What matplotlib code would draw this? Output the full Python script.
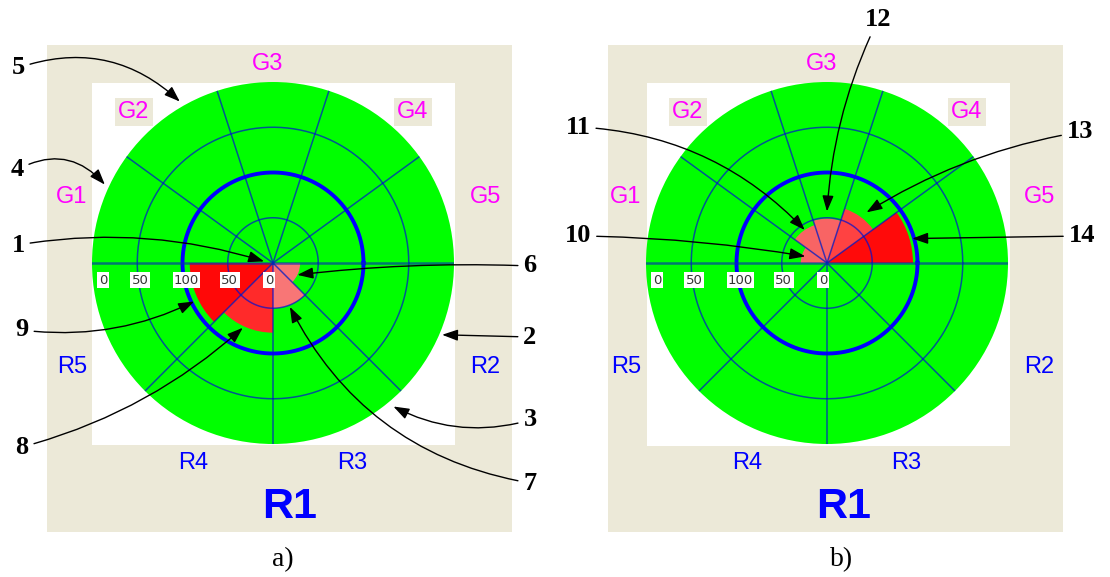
import numpy as np
import matplotlib
matplotlib.use("Agg")
import matplotlib.pyplot as plt
from matplotlib.patches import Rectangle

# sector names, upper half (left to right) and lower half (right to left)
g_names = ['G1', 'G2', 'G3', 'G4', 'G5']
r_names = ['R2', 'R3', 'R4', 'R5']
scale_ticks = ['0', '50', '100', '50', '0']
scale_radii = [200, 150, 100, 50, 0]

# values per sector for panel a) and b)
a_g_values = [0, 0, 0, 0, 0]
a_r_values = [30, 50, 77, 92]
b_g_values = [29, 44, 49, 63, 95]
b_r_values = [0, 0, 0, 0]

a_r_colors = ['#f87676', '#f87676', '#ff2a2a', '#ff0808']
b_g_colors = ['#f86464', '#f86464', '#f86464', '#ff4242', '#ff0a0a']

W, H = 1110, 577
BEIGE = '#ece9d8'
RAD = 181

fig = plt.figure(figsize=(W / 100, H / 100), dpi=100)
bg = fig.add_axes([0, 0, 1, 1])
bg.set_xlim(0, W)
bg.set_ylim(H, 0)
bg.axis('off')

g_theta = np.deg2rad([162, 126, 90, 54, 18])
r_theta = np.deg2rad([-22.5, -67.5, -112.5, -157.5])


def target(cx, cy, beige_box, white_box, g_vals, r_vals, g_cols, r_cols):
    bx0, by0, bx1, by1 = beige_box
    bg.add_patch(Rectangle((bx0, by0), bx1 - bx0, by1 - by0, color=BEIGE, lw=0))
    wx0, wy0, wx1, wy1 = white_box
    bg.add_patch(Rectangle((wx0, wy0), wx1 - wx0, wy1 - wy0, color='white', lw=0))

    ax = fig.add_axes([(cx - RAD) / W, (H - cy - RAD) / H, 2 * RAD / W, 2 * RAD / H],
                      projection='polar')
    ax.set_facecolor('#00ff00')
    ax.set_ylim(0, 200)
    ax.set_xticks([])
    ax.set_yticks([])
    ax.grid(False)
    ax.spines['polar'].set_visible(False)

    ax.bar(g_theta, g_vals, width=np.deg2rad(36), color=g_cols, lw=0, zorder=2)
    ax.bar(r_theta, r_vals, width=np.deg2rad(45), color=r_cols, lw=0, zorder=2)

    grid_kw = dict(color='#0010d0', alpha=0.7, lw=1.1, zorder=3)
    circ = np.linspace(0, 2 * np.pi, 400)
    for r in [50, 150]:
        ax.plot(circ, np.full_like(circ, r), **grid_kw)
    ax.plot(circ, np.full_like(circ, 100), color='#0000ff', lw=2.8, zorder=3)
    for t in [36, 72, 108, 144, -45, -90, -135]:
        ax.plot([np.deg2rad(t)] * 2, [0, 200], **grid_kw)
    ax.plot([0, 0], [0, 200], color='#0030b0', alpha=0.65, lw=1.8, zorder=3)
    ax.plot([np.pi, np.pi], [0, 200], color='#0030b0', alpha=0.65, lw=1.8, zorder=3)

    # radial scale along the left half
    offs = [11, 3, 4, 2, -4]
    for lab, r, dx in zip(scale_ticks, scale_radii, offs):
        ax.annotate(lab, xy=(np.pi, r), xytext=(dx, -17), textcoords='offset pixels',
                    ha='center', va='center', fontsize=9.5, color='#333333',
                    family='DejaVu Sans', zorder=4,
                    bbox=dict(boxstyle='square,pad=0.1', fc='white', ec='none'))

    # sector names around the target
    lab_kw = dict(ha='center', va='center', fontsize=17, family='Liberation Sans')
    g_pos = [(-201, -66), (-139, -151), (-5, -199), (140, -151), (213, -66)]
    for name, (dx, dy) in zip(g_names, g_pos):
        box = None
        if name in ('G2', 'G4'):
            box = dict(boxstyle='square,pad=0.12', fc=BEIGE, ec='none')
        bg.text(cx + dx, cy + dy, name, color='#ff00ff', bbox=box, **lab_kw)
    r_pos = [(212, 104), (79, 200), (-80, 200), (-201, 104)]
    for name, (dx, dy) in zip(r_names, r_pos):
        bg.text(cx + dx, cy + dy, name, color='#0000ff', **lab_kw)
    bg.text(cx + 17, cy + 244, 'R1', color='#0000ff', ha='center', va='center',
            fontsize=31, fontweight='bold', family='Liberation Sans')
    return ax


ax_a = target(273, 263, (47, 45, 512, 532), (92, 83, 455, 445),
              a_g_values, a_r_values, b_g_colors, a_r_colors)
ax_b = target(827, 263, (608, 45, 1063, 532), (647, 83, 1010, 446),
              b_g_values, b_r_values, b_g_colors, a_r_colors)


def callout(ax, num, theta_deg, r, xt, yt, rad, shrink=0):
    ax.annotate(num, xy=(np.deg2rad(theta_deg), r), xytext=(xt, yt),
                textcoords=bg.transData, ha='center', va='center',
                fontsize=19, fontweight='bold', family='Liberation Serif',
                annotation_clip=False, zorder=6,
                arrowprops=dict(arrowstyle='-|>,head_length=0.95,head_width=0.34',
                                mutation_scale=10, color='black', lw=1.0,
                                shrinkA=2, shrinkB=shrink,
                                connectionstyle='arc3,rad=%s' % rad))


callout(ax_a, '5', 120, 206, 18, 68, -0.3)
callout(ax_a, '4', 155, 205, 17, 170, -0.4)
callout(ax_a, '1', 170, 10, 18, 245, -0.12)
callout(ax_a, '9', -154, a_r_values[3] + 5, 22, 330, 0.15)
callout(ax_a, '8', -115, a_r_values[2] + 2, 22, 447, 0.12)
callout(ax_a, '6', -26, a_r_values[0], 530, 266, 0.04)
callout(ax_a, '2', -23, 203, 530, 337, 0)
callout(ax_a, '3', -50, 207, 530, 420, -0.2)
callout(ax_a, '7', -69, a_r_values[1] + 2, 530, 483, -0.25)

callout(ax_b, '10', 163, b_g_values[0] - 4, 578, 236, -0.04)
callout(ax_b, '11', 124, b_g_values[1], 578, 127, -0.2)
callout(ax_b, '12', 90, b_g_values[2] + 8, 878, 20, 0.1)
callout(ax_b, '13', 52, b_g_values[3] + 8, 1080, 132, 0.1)
callout(ax_b, '14', 16, b_g_values[4] + 3, 1082, 236, 0)

bg.text(283, 560, 'a)', ha='center', va='center', fontsize=20, family='Liberation Serif')
bg.text(842, 560, 'b)', ha='center', va='center', fontsize=20, family='Liberation Serif')

fig.savefig('out.png', dpi=100)
